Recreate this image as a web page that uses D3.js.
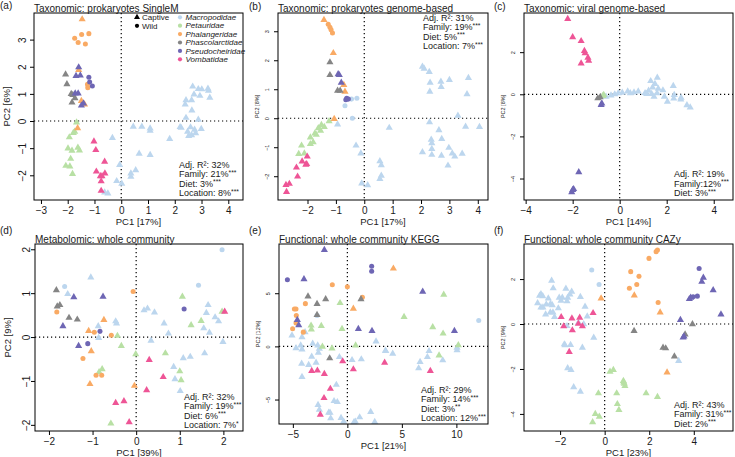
<!DOCTYPE html>
<html>
<head>
<meta charset="utf-8">
<script src="https://cdn.jsdelivr.net/npm/d3@7"></script>
<style>
  body { margin: 0; background: #fff; }
  text { font-family: "Liberation Sans", Arial, sans-serif; fill: #1a1a1a; }
</style>
</head>
<body>
<svg width="735" height="457"></svg>
<script>
// families, in legend order (index used in the point arrays)
const families = ["Macropodidae", "Petauridae", "Phalangeridae", "Phascolarctidae", "Pseudocheiridae", "Vombatidae"];
const familyColors = ["#bcd6ee", "#b8e0a4", "#f9aa64", "#858585", "#6e66b4", "#ee5596"];
const origins = ["Captive", "Wild"]; // 0 = triangle, 1 = circle

// points: [PC1, PC2, family index, origin]
const pcaSingleM = [
  [-0.33,-0.62,0,0],[-0.06,-1.62,0,0],[-0.17,-2.21,0,0],[0.02,-2.31,0,0],[-0.62,-2.63,0,0],[-0.50,-2.67,0,0],
  [0.45,-0.21,0,0],[0.77,-0.21,0,0],[1.08,-0.27,0,0],[1.08,-0.36,0,0],[0.67,-1.20,0,0],[1.08,-1.25,0,0],
  [1.81,-0.66,0,0],[0.54,-1.81,0,0],[0.36,-1.93,0,0],[0.36,-2.05,0,0],
  [2.67,1.27,0,0],[3.01,1.17,0,0],[2.88,1.18,0,0],[3.24,1.19,0,0],[3.26,1.12,0,0],[2.72,0.98,0,0],
  [2.94,0.93,0,0],[3.31,0.86,0,0],[2.63,0.77,0,0],[2.42,0.77,0,0],[2.39,0.61,0,0],[2.64,0.39,0,0],
  [2.42,0.12,0,0],[2.88,0.05,0,0],[2.24,-0.25,0,0],[2.59,-0.23,0,0],[2.74,-0.32,0,0],[2.48,-0.39,0,0],
  [2.63,-0.52,0,0],[2.52,-0.55,0,0],[2.78,-0.45,0,0],[2.99,-0.29,0,0],[2.20,-0.22,0,0],
  [-1.67,-0.05,1,0],[-1.79,-0.44,1,0],[-1.74,-0.39,1,0],[-1.94,-0.60,1,0],[-1.99,-1.01,1,0],[-1.84,-1.09,1,0],
  [-1.62,-0.98,1,0],[-1.56,-1.08,1,0],[-1.89,-1.39,1,0],[-2.07,-1.65,1,0],[-1.92,-1.67,1,0],[-1.82,-1.95,1,0],
  [-1.46,3.75,2,0],[-1.74,3.05,2,1],[-1.48,3.19,2,1],[-1.21,3.22,2,1],[-1.61,2.89,2,1],[-1.34,2.84,2,1],
  [-1.59,1.88,2,0],[-1.26,1.35,2,1],[-1.25,1.23,2,1],[-1.49,0.74,2,0],[-1.37,0.61,2,0],[-1.63,-0.26,2,0],
  [-2.08,1.72,3,0],[-2.03,1.36,3,0],[-1.87,1.00,3,0],[-1.81,0.96,3,0],[-1.73,0.84,3,0],[-1.84,0.68,3,0],
  [-1.59,1.98,4,0],[-1.69,1.66,4,0],[-1.53,1.68,4,0],[-1.21,1.61,4,1],[-1.18,1.44,4,1],[-1.08,1.29,4,1],
  [-1.72,1.02,4,0],[-1.61,1.02,4,0],[-1.41,0.65,4,0],[-1.49,0.57,4,0],
  [-1.02,-0.75,5,0],[-0.95,-1.07,5,0],[-0.62,-1.50,5,0],[-0.93,-1.86,5,0],[-0.61,-1.93,5,0],
  [-0.78,-2.03,5,0],[-0.72,-2.03,5,0],[-0.75,-2.22,5,0],[-0.75,-2.57,5,0]
];

const pcaGenome = [
  [-0.45,0.66,0,1],[-0.26,0.69,0,1],[-0.68,0.43,0,1],[-0.42,0.00,0,1],[-0.94,-0.21,0,0],[-0.29,-0.94,0,0],
  [-0.12,-1.21,0,0],[-0.09,-2.25,0,0],[0.12,-2.31,0,0],[0.88,-0.33,0,0],[0.55,-1.48,0,0],[0.60,-1.62,0,0],
  [0.55,-2.09,0,0],[0.60,-1.98,0,0],
  [2.05,1.78,0,0],[2.11,1.71,0,0],[2.29,1.60,0,0],[2.70,1.26,0,0],[3.00,1.32,0,0],[3.67,1.39,0,0],
  [2.32,1.23,0,0],[2.71,1.08,0,0],[2.31,0.92,0,0],[3.62,0.83,0,0],[3.30,0.09,0,0],[2.30,-0.14,0,0],
  [4.06,-0.30,0,0],[3.57,-0.29,0,0],[2.63,-0.41,0,0],[2.36,-0.74,0,0],[2.38,-0.86,0,0],[2.73,-0.71,0,0],
  [2.98,-1.02,0,0],[2.38,-1.06,0,0],[2.38,-1.26,0,0],[2.05,-1.17,0,0],[3.10,-1.21,0,0],[3.19,-1.32,0,0],
  [3.45,-1.22,0,0],[2.72,-1.29,0,0],[2.95,-1.63,0,0],
  [-1.24,-0.10,1,0],[-1.41,-0.30,1,0],[-1.51,-0.23,1,0],[-1.62,-0.34,1,0],[-1.54,-0.43,1,0],[-1.74,-0.52,1,0],
  [-1.69,-0.57,1,0],[-1.90,-0.66,1,0],[-1.80,-0.83,1,0],[-1.90,-0.89,1,0],[-2.21,-0.94,1,0],[-2.11,-1.21,1,0],
  [-2.31,-1.23,1,0],
  [-1.42,3.39,2,0],[-1.27,3.24,2,1],[-1.21,3.14,2,1],[-1.17,3.05,2,1],[-1.12,2.94,2,1],[-1.09,2.25,2,0],
  [-0.72,1.15,2,0],[-0.68,0.92,2,0],[-1.06,-0.02,2,0],
  [-1.21,1.93,3,0],[-1.21,1.49,3,0],[-0.94,0.95,3,0],[-0.85,0.95,3,0],
  [-0.92,1.52,4,0],[-0.88,1.49,4,0],[-0.81,1.23,4,0],[-0.62,0.69,4,1],[-0.56,0.66,4,1],[-0.65,0.64,4,1],
  [-2.01,-1.32,5,0],[-2.19,-1.49,5,0],[-2.06,-1.60,5,0],[-2.03,-1.58,5,0],[-2.39,-1.70,5,0],[-2.35,-2.01,5,0],
  [-2.64,-2.26,5,0],[-2.76,-2.30,5,0],[-2.74,-2.54,5,0]
];

const pcaViral = [
  [-0.58,-0.11,0,0],[-0.37,-0.05,0,0],[-0.21,0.00,0,0],[-0.06,0.05,0,0],[0.11,0.08,0,0],[0.34,0.14,0,0],
  [0.45,0.05,0,0],[0.61,0.09,0,0],[0.79,0.14,0,0],[1.08,0.06,0,0],[1.23,0.17,0,0],[1.32,0.63,0,0],
  [1.40,0.33,0,0],[1.50,0.49,0,0],[1.60,0.79,0,0],[1.64,0.27,0,0],[1.59,0.05,0,0],[1.84,0.19,0,0],
  [1.90,-0.11,0,0],[2.03,-0.35,0,0],[2.28,0.40,0,0],[2.32,-0.03,0,0],[2.61,-0.16,0,0],[2.60,-0.24,0,0],
  [2.86,-0.52,0,0],[3.00,-0.62,0,0],[1.36,0.02,0,0],[1.15,0.02,0,0],[1.46,-0.11,0,0],[2.30,-0.20,0,0],
  [-0.72,-0.08,1,0],[-0.68,-0.03,1,0],
  [-0.93,-0.19,3,0],[-0.83,-0.14,3,0],
  [-0.76,-0.43,4,0],[-0.79,-0.51,4,0],[-1.74,-3.70,4,0],[-2.00,-4.54,4,0],[-2.04,-4.65,4,0],[-1.96,-4.50,4,0],
  [-2.21,3.58,5,0],[-2.00,2.71,5,0],[-1.64,2.53,5,0],[-1.50,2.06,5,0],[-1.47,1.95,5,0],[-1.35,1.74,5,0],
  [-1.32,1.60,5,0],[-1.64,1.47,5,0]
];

const pcaMetabolomic = [
  [-1.04,1.36,0,0],[-1.64,1.15,0,1],[-1.57,0.98,0,0],[-0.87,0.25,0,0],[-0.86,-0.02,0,0],[-0.47,0.36,0,0],
  [-0.45,0.31,0,0],[0.18,0.61,0,0],[0.26,0.65,0,0],[0.42,0.56,0,0],[0.64,0.31,0,0],[0.74,0.08,0,0],
  [0.34,-0.08,0,0],[1.08,-0.48,0,0],[1.24,-0.45,0,0],[1.57,-0.37,0,0],[0.86,-0.68,0,0],[0.89,-0.96,0,0],
  [1.01,-1.23,0,0],[1.43,1.18,0,1],[1.65,0.73,0,0],[1.61,0.55,0,0],[1.55,0.20,0,0],[1.68,0.10,0,0],
  [1.81,0.45,0,0],[1.89,0.36,0,0],[1.99,-0.11,0,0],[1.97,1.99,0,1],
  [1.06,0.92,1,0],[1.26,0.27,1,0],[1.49,0.37,1,0],[1.97,0.58,1,0],[-0.43,0.03,1,0],[-0.34,-0.20,1,0],
  [-0.01,-0.39,1,0],[0.67,-0.37,1,0],[1.00,-0.78,1,0],[1.03,-0.98,1,0],[-0.78,-0.73,1,0],[-0.85,-0.80,1,0],
  [-0.58,-1.97,1,0],
  [-1.82,0.57,2,1],[-0.07,1.04,2,1],[-0.74,0.39,2,0],[-1.09,0.14,2,0],[-0.96,0.11,2,1],[-0.57,0.04,2,1],
  [-1.03,-0.32,2,0],[-1.22,-0.49,2,1],[-0.92,-0.87,2,1],[-0.79,-0.87,2,1],[-1.06,-1.07,2,0],[-0.04,-1.11,2,0],
  [-1.83,1.07,3,0],[-1.81,0.70,3,0],[-1.75,0.73,3,0],[-1.54,0.44,3,0],[-1.35,0.40,3,0],
  [-1.43,0.91,4,0],[-0.76,0.92,4,0],[-1.68,0.25,4,0],[-0.83,0.13,4,1],[-1.11,-0.15,4,1],[-1.32,-0.20,4,0],
  [1.10,0.64,4,1],
  [0.30,-0.52,5,0],[0.62,-0.91,5,0],[0.24,-1.21,5,0],[-0.28,-1.46,5,0],[-0.47,-1.50,5,0],[-0.16,-1.94,5,0],
  [2.03,0.58,5,0]
];

const pcaKegg = [
  [-2.78,2.90,0,1],[-5.08,1.03,0,0],[-4.16,0.87,0,0],[-3.88,1.34,0,0],[2.63,0.47,0,0],[3.49,-0.40,0,0],
  [-4.71,-0.16,0,0],[-4.28,0.09,0,0],[-4.16,-0.28,0,0],[-3.18,0.25,0,0],[-2.72,0.09,0,0],[-2.66,-0.59,0,0],
  [-2.57,-0.22,0,0],[-3.27,-0.97,0,0],[-2.87,-1.53,0,0],[-4.19,-1.62,0,0],[-3.55,-1.74,0,0],[-4.16,-2.87,0,0],
  [-0.73,-1.00,0,0],[0.43,-1.28,0,0],[1.28,-1.21,0,0],[-1.01,-3.61,0,0],[-1.22,-5.14,0,0],[-0.92,-5.23,0,0],
  [-2.69,-5.51,0,0],[-2.57,-5.95,0,0],[-1.71,-6.23,0,0],[-1.59,-6.23,0,0],[-1.53,-6.76,0,0],[-0.58,-6.73,0,0],
  [-0.34,-7.07,0,0],[0.61,-7.13,0,0],[0.73,-7.07,0,0],[1.13,-6.67,0,0],[2.14,-6.17,0,0],[2.51,-7.10,0,0],
  [12.05,2.43,0,1],[10.06,-0.12,0,0],[10.06,-0.35,0,0],[3.52,-0.44,0,0],[4.16,-0.69,0,0],[7.49,-0.44,0,0],
  [6.67,-1.46,0,0],[8.75,-1.31,0,0],[6.54,-2.06,0,0],[7.34,-1.00,0,0],
  [-0.67,4.08,1,0],[-3.33,1.96,1,0],[-3.30,1.59,1,0],[-2.39,1.93,1,0],[-0.49,1.65,1,0],[-1.41,-0.19,1,0],
  [-2.29,-0.03,1,0],[0.76,0.09,1,0],[8.84,4.86,1,0],[5.20,2.77,1,0],[7.83,1.81,1,0],[8.78,1.21,1,0],
  [10.18,0.12,1,0],[8.41,-0.84,1,0],
  [-1.38,5.79,2,1],[0.00,5.61,2,1],[-3.85,4.02,2,1],[1.38,4.61,2,1],[0.55,3.55,2,0],[-4.86,3.52,2,1],
  [-4.71,3.52,2,1],[-4.68,2.90,2,1],[-4.71,2.21,2,1],[-5.02,1.65,2,1],[-4.04,1.34,2,1],[4.22,7.32,2,0],
  [-3.61,4.70,3,0],[-2.78,3.99,3,0],[-1.99,4.45,3,0],[-2.78,2.96,3,0],[1.25,4.45,3,0],[-1.62,-1.12,3,0],
  [-2.11,9.07,4,0],[2.23,7.54,4,1],[2.23,7.07,4,1],[-5.50,6.26,4,1],[-3.98,6.32,4,0],[-4.59,2.49,4,0],
  [-4.46,1.99,4,0],[1.01,1.65,4,0],[2.26,1.46,4,0],[6.91,5.14,4,0],[9.82,1.46,4,0],
  [-0.43,-1.40,5,0],[-3.27,-2.31,5,0],[-2.75,-2.27,5,0],[-2.11,-2.59,5,0],[-1.56,-3.99,5,0],[0.55,-2.15,5,0],
  [-2.14,-4.86,5,0],[-2.48,-6.42,5,0],[3.42,-1.53,5,0],[7.61,-2.31,5,0]
];

const pcaCazy = [
  [-0.58,2.40,0,1],[-0.25,1.76,0,1],[-2.38,1.93,0,0],[-2.31,1.59,0,0],[-1.74,1.57,0,0],[-1.48,1.44,0,0],
  [-1.56,1.32,0,0],[-2.86,1.33,0,0],[-2.78,1.24,0,0],[-2.92,1.26,0,0],[-2.53,1.14,0,0],[-2.04,1.17,0,0],
  [-1.90,1.17,0,0],[-1.96,1.04,0,0],[-1.66,1.17,0,0],[-1.69,1.02,0,0],[-1.09,1.21,0,0],[-3.01,0.93,0,0],
  [-2.86,0.74,0,0],[-2.77,0.74,0,0],[-2.62,0.87,0,0],[-2.43,0.90,0,0],[-2.35,0.84,0,0],[-2.08,0.70,0,0],
  [-0.88,0.77,0,0],[-2.65,0.43,0,0],[-2.44,0.52,0,0],[-2.32,0.52,0,0],[-2.25,0.31,0,0],[-1.69,-0.09,0,0],
  [-1.18,0.06,0,0],[-0.94,-0.01,0,0],[-0.78,0.34,0,0],[-0.49,-0.61,0,0],[-1.81,-0.90,0,0],[-1.78,-0.94,0,0],
  [-1.53,-0.93,0,0],[-1.00,-1.05,0,0],[-1.66,-1.96,0,0],[-1.51,-2.04,0,0],[-1.39,-2.81,0,0],[-1.09,-3.01,0,0],
  [3.32,-1.64,0,0],
  [0.24,-2.12,1,0],[0.39,-2.04,1,0],[0.84,-2.53,1,0],[0.88,-2.65,1,0],[0.91,-2.76,1,0],[0.86,-2.60,1,0],
  [0.54,-3.08,1,0],[-0.28,-3.08,1,0],[1.86,-3.08,1,0],[2.37,-3.24,1,0],[0.57,-3.56,1,0],[0.64,-3.82,1,0],
  [-0.42,-4.00,1,0],[-0.24,-4.12,1,0],[-0.54,-4.37,1,0],
  [-0.16,1.14,2,0],[2.37,3.29,2,1],[2.31,3.22,2,1],[1.99,2.92,2,1],[1.17,2.33,2,1],[1.54,2.12,2,1],
  [1.44,1.76,2,1],[1.11,1.59,2,1],[1.33,1.27,2,0],[2.40,0.96,2,1],[2.49,0.52,2,0],[2.80,-2.15,2,0],
  [3.94,-0.01,3,0],[1.32,-0.31,3,0],[3.61,-0.46,3,0],[2.74,-1.08,3,0],[2.62,-1.05,3,0],[3.13,-1.44,3,0],
  [4.24,2.47,4,1],[4.43,2.06,4,0],[4.36,1.88,4,0],[4.87,1.51,4,0],[4.16,1.24,4,1],[3.97,1.21,4,1],
  [3.86,1.17,4,0],[3.80,1.11,4,0],[5.22,0.43,4,0],[3.40,0.18,4,0],[3.56,-0.55,4,0],[3.52,-0.60,4,0],
  [-1.95,0.31,5,0],[-1.47,0.25,5,0],[-1.12,0.28,5,0],[-0.52,0.49,5,0],[-1.84,-0.10,5,0],[-1.45,-0.28,5,0],
  [-1.18,0.01,5,0],[-1.00,-0.10,5,0],[-1.59,-1.24,5,0]
];

// texts
const panelTags = ["(a)", "(b)", "(c)", "(d)", "(e)", "(f)"];
const panelTitles = [
  "Taxonomic: prokaryotes SingleM", "Taxonomic: prokaryotes genome-based", "Taxonomic: viral genome-based",
  "Metabolomic: whole community", "Functional: whole community KEGG", "Functional: whole community CAZy"
];
const xTitles = ["PC1 [17%]", "PC1 [17%]", "PC1 [14%]", "PC1 [39%]", "PC1 [21%]", "PC1 [23%]"];
const yTitles = ["PC2 [6%]", "PC2 [8%]", "PC2 [8%]", "PC2 [9%]", "PC2 [12%]", "PC2 [9%]"];
const xTickValues = [[-3,-2,-1,0,1,2,3,4], [-2,-1,0,1,2,3,4], [-4,-2,0,2,4], [-2,-1,0,1,2], [-5,0,5,10], [-2,0,2,4]];
const yTickValues = [[-2,-1,0,1,2,3], [-2,-1,0,1,2,3], [-4,-2,0,2], [-2,-1,0,1,2], [-5,0,5], [-4,-2,0,2]];
const statLines = [
  ["Adj. R²: 32%", "Family: 21%***", "Diet: 3%***", "Location: 8%***"],
  ["Adj. R²: 31%", "Family: 19%***", "Diet: 5%***", "Location: 7%***"],
  ["Adj. R²: 19%", "Family:12%***", "Diet: 3%***"],
  ["Adj. R²: 32%", "Family: 19%***", "Diet: 6%***", "Location: 7%*"],
  ["Adj. R²: 29%", "Family: 14%***", "Diet: 3%**", "Location: 12%***"],
  ["Adj. R²: 43%", "Family: 31%***", "Diet: 2%***"]
];
const panelData = [pcaSingleM, pcaGenome, pcaViral, pcaMetabolomic, pcaKegg, pcaCazy];

// layout: plot box [left, top, right, bottom], axis limits, label placement
const layout = [
  { box: [34, 13, 243, 200], xlim: [-3.26, 4.55], ylim: [-2.91, 3.98], small: false, yLab: 12, tag: [0, 8.5], stat: [179, 167.5] },
  { box: [278, 13, 488, 200], xlim: [-3.04, 4.36], ylim: [-2.82, 3.63], small: true, yLab: 11.3, tag: [249, 9.5], stat: [423, 20.5] },
  { box: [524, 13, 733, 200], xlim: [-4.07, 4.82], ylim: [-5.02, 3.86], small: true, yLab: 11.3, tag: [494, 9.5], stat: [674, 177] },
  { box: [35, 244, 243, 431], xlim: [-2.32, 2.45], ylim: [-2.14, 2.12], small: false, yLab: 8.5, tag: [0, 234], stat: [184, 399.5] },
  { box: [279, 244, 488, 424], xlim: [-6.27, 12.9], ylim: [-7.3, 9.63], small: true, yLab: 11.3, tag: [249, 234], stat: [421, 392.5] },
  { box: [524, 244, 733, 431], xlim: [-3.62, 5.76], ylim: [-4.76, 3.56], small: true, yLab: 11.3, tag: [494, 234], stat: [674, 407.5] }
];

const svg = d3.select("svg");
const triangle = d3.symbol(d3.symbolTriangle, 22)();
const circle = d3.symbol(d3.symbolCircle, 20)();
const fmt = (v) => (v < 0 ? "\u2212" + Math.abs(v) : String(v));

function starText(sel, str, size) {
  const m = str.match(/^(.*?)(\*+)$/);
  sel.append("tspan").text(m ? m[1] : str);
  if (m) sel.append("tspan").attr("font-size", size * 0.75).attr("dy", -2.5).text(m[2]);
}

function drawPanel(i) {
  const L = layout[i];
  const [x0, y0, x1, y1] = L.box;
  const x = d3.scaleLinear().domain(L.xlim).range([x0, x1]);
  const y = d3.scaleLinear().domain(L.ylim).range([y1, y0]);
  const g = svg.append("g");

  // zero lines
  g.append("line").attr("x1", x(0)).attr("x2", x(0)).attr("y1", y0).attr("y2", y1)
    .attr("stroke", "#000").attr("stroke-width", 1.2).attr("stroke-dasharray", "1.2,2.8");
  g.append("line").attr("x1", x0).attr("x2", x1).attr("y1", y(0)).attr("y2", y(0))
    .attr("stroke", "#000").attr("stroke-width", 1.2).attr("stroke-dasharray", "1.2,2.8");

  g.append("g").selectAll("path").data(panelData[i]).join("path")
    .attr("transform", (d) => `translate(${x(d[0])},${y(d[1])})`)
    .attr("d", (d) => (d[3] ? circle : triangle))
    .attr("fill", (d) => familyColors[d[2]]);

  g.append("rect").attr("x", x0).attr("y", y0).attr("width", x1 - x0).attr("height", y1 - y0)
    .attr("fill", "none").attr("stroke", "#000").attr("stroke-width", 1);

  // x axis
  const xg = g.append("g").attr("transform", `translate(0,${y1})`)
    .call(d3.axisBottom(x).tickValues(xTickValues[i]).tickSize(4).tickFormat(fmt));
  xg.select(".domain").remove();
  xg.selectAll(".tick text").attr("y", 0).attr("dy", 14).attr("font-size", 10)
    .attr("font-family", "Liberation Sans, Arial, sans-serif");

  // y axis, labels parallel to the axis
  const ySize = L.small ? 5.5 : 10;
  const yg = g.append("g").attr("transform", `translate(${x0},0)`)
    .call(d3.axisLeft(y).tickValues(yTickValues[i]).tickSize(4).tickFormat(fmt));
  yg.select(".domain").remove();
  yg.selectAll(".tick text").attr("x", 0).attr("y", 0).attr("dy", "0.35em")
    .attr("text-anchor", "middle").attr("font-size", ySize)
    .attr("font-family", "Liberation Sans, Arial, sans-serif")
    .attr("transform", `translate(${-L.yLab},0) rotate(-90)`);

  // titles
  g.append("text").attr("x", L.tag[0]).attr("y", L.tag[1]).attr("font-size", 10).text(panelTags[i]);
  g.append("text").attr("x", x0).attr("y", y0 - 1.5).attr("font-size", 10).text(panelTitles[i]);
  g.append("text").attr("x", (x0 + x1) / 2).attr("y", y1 + 24.5).attr("text-anchor", "middle")
    .attr("font-size", 9.5).text(xTitles[i]);
  const yt = L.small ? 20.7 : 27;
  g.append("text").attr("transform", `translate(${x0 - yt},${(y0 + y1) / 2}) rotate(-90)`)
    .attr("dy", "0.35em").attr("text-anchor", "middle").attr("font-size", L.small ? 5.5 : 9.5)
    .text(yTitles[i]);

  // stats
  statLines[i].forEach((s, k) => {
    const t = g.append("text").attr("x", L.stat[0]).attr("y", L.stat[1] + k * 9.6).attr("font-size", 9);
    starText(t, s, 9);
  });
}

d3.range(6).forEach(drawPanel);

// legend in panel (a)
const leg = svg.append("g");
origins.forEach((o, k) => {
  leg.append("path").attr("transform", `translate(137,${17.3 + k * 8.5})`)
    .attr("d", k ? d3.symbol(d3.symbolCircle, 14)() : d3.symbol(d3.symbolTriangle, 16)()).attr("fill", "#000");
  leg.append("text").attr("x", 142).attr("y", 20 + k * 8.5).attr("font-size", 8).text(o);
});
families.forEach((f, k) => {
  leg.append("path").attr("transform", `translate(180,${17.3 + k * 8.4})`)
    .attr("d", d3.symbol(d3.symbolCircle, 14)()).attr("fill", familyColors[k]);
  leg.append("text").attr("x", 185.5).attr("y", 20 + k * 8.4).attr("font-size", 8)
    .attr("font-style", "italic").text(f);
});
</script>
</body>
</html>
